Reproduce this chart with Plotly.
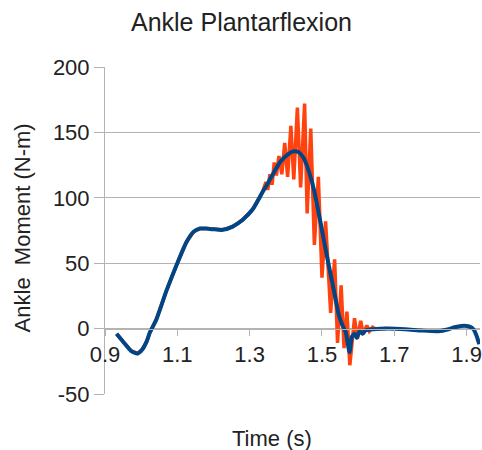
import plotly.graph_objects as go

# Smoothed (blue) series
blue_x = [0.932, 0.95, 0.972, 0.99, 1.003, 1.015, 1.024, 1.042, 1.07, 1.1, 1.125, 1.145,
          1.163, 1.18, 1.198, 1.225, 1.253, 1.28, 1.308, 1.335, 1.35, 1.368, 1.386, 1.405,
          1.42, 1.435, 1.448, 1.459, 1.478, 1.496, 1.514, 1.533, 1.547, 1.556, 1.566, 1.576,
          1.583, 1.59, 1.596, 1.604, 1.612, 1.62, 1.643, 1.68, 1.73, 1.776, 1.822, 1.85,
          1.867, 1.885, 1.9, 1.912, 1.92, 1.927, 1.935]
blue_y = [-4, -10, -17, -19, -16, -10, -3, 7, 29, 50, 66, 74,
          76.5, 76.5, 76, 75.5, 78, 83, 91, 104, 111, 120, 128, 133,
          135.5, 135, 131, 124, 106, 81, 55, 29, 10, 3, -3, -18,
          -6, -4, -7, -2, -4, -1.5, -0.5, 0, -0.5, -1.5, -2, -0.5,
          1, 2, 2, 1, -1, -5, -12]

# Raw (orange) series
orange_x = [0.932, 0.95, 0.972, 0.99, 1.003, 1.015, 1.024, 1.042, 1.07, 1.1, 1.125, 1.145,
            1.163, 1.18, 1.198, 1.225, 1.253, 1.28, 1.308, 1.335, 1.345, 1.35, 1.356, 1.362,
            1.368, 1.374, 1.381, 1.389, 1.397, 1.405, 1.414, 1.422, 1.432, 1.441, 1.452,
            1.459, 1.469, 1.479, 1.49, 1.5, 1.51, 1.524, 1.535, 1.543, 1.553, 1.561, 1.569,
            1.577, 1.59, 1.598, 1.607, 1.614, 1.624, 1.631, 1.64, 1.65, 1.68]
orange_y = [-4, -10, -17, -19, -16, -10, -3, 7, 29, 50, 66, 74,
            76.5, 76.5, 76, 75.5, 78, 83, 91, 104, 112, 106, 118, 110,
            127, 117, 132, 118, 142, 116, 155, 114, 169, 108, 172,
            88, 153, 64, 116, 39, 82, 12, 53, -11, 33, -15, 13,
            -28, 8, -8, 6, -4, 2.5, -2, 1, -0.5, 0]

x_ticks = [0.9, 1.1, 1.3, 1.5, 1.7, 1.9]
y_ticks = [-50, 0, 50, 100, 150, 200]
y_labels = ["-50", "0", "50", "100", "150", "200"]

FONT = "Liberation Sans"
GRID = "#b3b3b3"

fig = go.Figure()
fig.add_trace(go.Scatter(x=orange_x, y=orange_y, mode="lines",
                         line=dict(color="#ff420e", width=3.5), showlegend=False))
fig.add_trace(go.Scatter(x=blue_x, y=blue_y, mode="lines",
                         line=dict(color="#004586", width=4, shape="spline", smoothing=0.6),
                         showlegend=False))

fig.update_layout(
    width=482, height=450,
    margin=dict(l=105, r=0, t=67, b=56),
    paper_bgcolor="white", plot_bgcolor="white",
    font=dict(family=FONT, size=22, color="#222"),
    title=dict(text="Ankle Plantarflexion", x=0.501, xanchor="center",
               y=0.951, yanchor="middle", font=dict(size=25, color="#222")),
    xaxis=dict(range=[0.9, 1.937], tickvals=x_ticks, ticktext=[str(v) for v in x_ticks],
               anchor="free", position=0.2, showline=True, linecolor=GRID, linewidth=1,
               ticks="outside", ticklen=6, tickcolor=GRID, showgrid=False, zeroline=False,
               ticklabeloverflow="allow", tickfont=dict(size=22)),
    yaxis=dict(range=[-50, 200], tickvals=y_ticks, ticktext=y_labels, domain=[0, 1],
               showline=True, linecolor=GRID, linewidth=1, ticks="outside", ticklen=10,
               tickcolor=GRID, showgrid=True, gridcolor=GRID, gridwidth=1, zeroline=False,
               tickfont=dict(size=22)),
    annotations=[
        dict(text="Time (s)", xref="paper", yref="paper", x=0.4456, y=-0.1346,
             xanchor="center", yanchor="middle", showarrow=False, font=dict(size=22)),
        dict(text="Ankle  Moment (N-m)", xref="paper", yref="paper", x=-0.22, y=0.508,
             xanchor="center", yanchor="middle", textangle=-90, showarrow=False,
             font=dict(size=22)),
    ],
)

fig.write_html("out.html", config={"displayModeBar": False},
               post_script="document.body.style.margin='0';document.body.style.overflow='hidden';")
